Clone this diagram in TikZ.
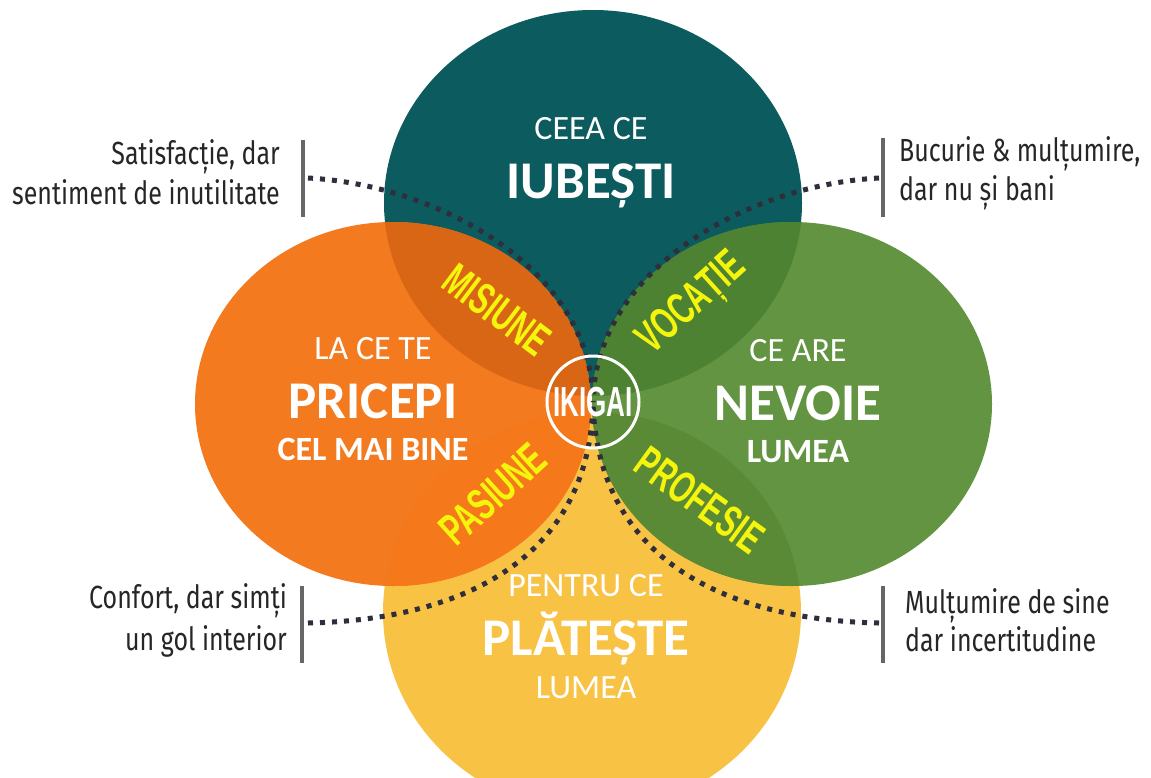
\documentclass[tikz,border=0pt]{standalone}
\usepackage{fontspec}
\usepackage{graphicx}
\setmainfont{Carlito}
\newfontfamily\labfont{Fira Sans}
\newfontfamily\condfont{Liberation Sans}
\definecolor{tealc}{HTML}{0C5B5E}
\definecolor{orangec}{HTML}{F37A1F}
\definecolor{orangeT}{HTML}{D96614}
\definecolor{orangeY}{HTML}{F5781A}
\definecolor{greenc}{HTML}{629441}
\definecolor{greenT}{HTML}{4C8232}
\definecolor{greenY}{HTML}{5A8A35}
\definecolor{yellowc}{HTML}{F8C244}
\definecolor{yel}{HTML}{F4F40C}
\definecolor{labc}{HTML}{262626}
\definecolor{barc}{HTML}{666666}
\definecolor{dotc}{HTML}{2E2E3C}
\begin{document}
\begin{tikzpicture}[x=1pt, y=-1pt,
  bigw/.style={anchor=base, inner sep=0pt, text=white, font=\bfseries\fontsize{53}{60}\selectfont},
  smw/.style={anchor=base, inner sep=0pt, text=white, font=\fontsize{34}{40}\selectfont},
  smwb/.style={anchor=base, inner sep=0pt, text=white, font=\bfseries\fontsize{34}{40}\selectfont},
  lab/.style={inner sep=0pt, text=labc, font=\labfont\fontsize{32}{38}\selectfont},
  ylab/.style={inner sep=0pt, text=yel, font=\condfont\bfseries\fontsize{45}{50}\selectfont},
  bar/.style={draw=barc, line width=4pt},
  dotline/.style={draw=dotc, line width=5pt, dash pattern=on 5pt off 7pt},
]
\useasboundingbox (0,0) rectangle (1151,777);
\clip (0,0) rectangle (1151,777);
\fill[white] (0,0) rectangle (1151,777);

% circles
\fill[tealc] (593,203) ellipse [x radius=209pt, y radius=193pt];
\fill[yellowc] (592,612) ellipse [x radius=209pt, y radius=200pt];
\fill[orangec] (393,404) ellipse [x radius=198pt, y radius=182pt];
\fill[greenc] (792,404) ellipse [x radius=200pt, y radius=182pt];
\begin{scope}
  \clip (393,404) ellipse [x radius=198pt, y radius=182pt];
  \fill[orangeT] (593,203) ellipse [x radius=209pt, y radius=193pt];
  \fill[orangeY] (592,612) ellipse [x radius=209pt, y radius=200pt];
\end{scope}
\begin{scope}
  \clip (792,404) ellipse [x radius=200pt, y radius=182pt];
  \fill[greenT] (593,203) ellipse [x radius=209pt, y radius=193pt];
  \fill[greenY] (592,612) ellipse [x radius=209pt, y radius=200pt];
\end{scope}

% connectors
\coordinate (c) at (593,402);
\coordinate (tl) at (308,178);
\coordinate (tr) at (879,178);
\coordinate (bl) at (308,623);
\coordinate (br) at (879,623);
\draw[dotline] (tl) .. controls (440,185) and (592,270) .. (c);
\draw[dotline] (tr) .. controls (747,185) and (595,270) .. (c);
\draw[dotline] (bl) .. controls (460,620) and (590,560) .. (c);
\draw[dotline] (br) .. controls (727,620) and (597,560) .. (c);

% bars
\draw[bar] (303,140) -- (303,217);
\draw[bar] (883,138) -- (883,217);
\draw[bar] (302,586) -- (302,663);
\draw[bar] (883,586) -- (883,663);

% side labels
\node[lab, anchor=base east] (tla) at (280,164) {\scalebox{0.78}[1]{Satisfacție, dar}};
\node[lab, anchor=base east] (tlb) at (280,204) {\scalebox{0.78}[1]{sentiment de inutilitate}};
\node[lab, anchor=base west] (tra) at (899,161) {\scalebox{0.78}[1]{Bucurie \& mulțumire,}};
\node[lab, anchor=base west] (trb) at (899,200) {\scalebox{0.78}[1]{dar nu și bani}};
\node[lab, anchor=base east] (bla) at (287,608) {\scalebox{0.78}[1]{Confort, dar simți}};
\node[lab, anchor=base east] (blb) at (287,650) {\scalebox{0.78}[1]{un gol interior}};
\node[lab, anchor=base west] (bra) at (905,613) {\scalebox{0.78}[1]{Mulțumire de sine}};
\node[lab, anchor=base west] (brb) at (905,651) {\scalebox{0.78}[1]{dar incertitudine}};

% main texts
\node[smw] (t1) at (591,139) {CEEA CE};
\node[bigw] (t2) at (591,198) {IUBEȘTI};
\node[smw] (l1) at (373,359) {LA CE TE};
\node[bigw] (l2) at (373,418) {PRICEPI};
\node[smwb] (l3) at (373,460) {CEL MAI BINE};
\node[smw] (r1) at (798,361) {CE ARE};
\node[bigw] (r2) at (798,420) {NEVOIE};
\node[smwb] (r3) at (798,462) {LUMEA};
\node[smw] (b1) at (586,596) {PENTRU CE};
\node[bigw] (b2) at (586,655) {PLĂTEȘTE};
\node[smw] (b3) at (586,698) {LUMEA};

% overlap labels
\node[ylab, rotate=-37] (mis) at (497,310) {\scalebox{0.64}[1]{MISIUNE}};
\node[ylab, rotate=42] (voc) at (693,305) {\scalebox{0.64}[1]{VOCAȚIE}};
\node[ylab, rotate=42] (pas) at (493,494) {\scalebox{0.64}[1]{PASIUNE}};
\node[ylab, rotate=-36] (pro) at (700,500) {\scalebox{0.64}[1]{PROFESIE}};

% centre
\node[circle, draw=white, line width=3pt, minimum size=92pt, inner sep=0pt, text=white,
      font=\condfont\bfseries\fontsize{42}{46}\selectfont] (iki) at (c) {\scalebox{0.62}[1]{IKIGAI}};
\end{tikzpicture}
\end{document}
